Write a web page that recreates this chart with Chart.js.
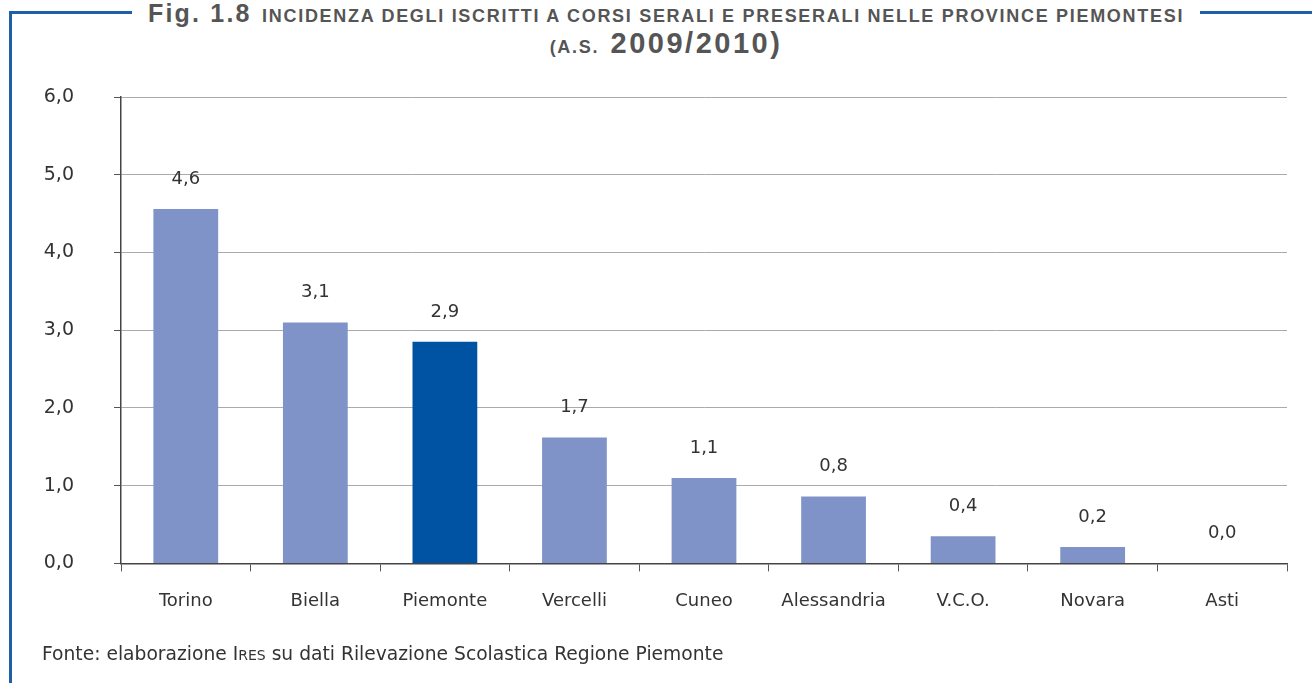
<!DOCTYPE html>
<html>
<head>
<meta charset="utf-8">
<script src="https://cdn.jsdelivr.net/npm/chart.js@4"></script>
<style>
  body { margin: 0; background: #fff; }
  #wrap { position: relative; width: 1312px; height: 683px; overflow: hidden; font-family: "DejaVu Sans", sans-serif; }
  #frame { position: absolute; left: 9px; top: 11px; width: 1400px; height: 700px; border-left: 3px solid #1f5fa8; border-top: 3px solid #1f5fa8; }
  #title { position: absolute; left: 10px; width: 1312px; top: 0px; text-align: center; color: #555; font-family: "Liberation Sans", Arial, sans-serif; font-weight: bold; line-height: 26px; }
  #title span.bg { background: #fff; padding: 0 16px; }
  .big { font-size: 25px; letter-spacing: 2.2px; margin-right: 6px; }
  .big2 { font-size: 29px; letter-spacing: 2.5px; margin-left: 7px; }
  .sm { font-size: 18px; letter-spacing: 1.7px; }
  #fonte { position: absolute; left: 42px; top: 643px; font-size: 18.7px; color: #333; }
  #fonte .sc { font-size: 14px; }
  canvas { position: absolute; left: 0; top: 0; }
</style>
</head>
<body>
<div id="wrap">
  <div id="frame"></div>
  <div id="title"><span class="bg"><span class="big">Fig. 1.8</span> <span class="sm">INCIDENZA DEGLI ISCRITTI A CORSI SERALI E PRESERALI NELLE PROVINCE PIEMONTESI</span></span><br><span class="sm">(A.S.</span> <span class="big2">2009/2010)</span></div>
  <canvas id="grafico" width="1312" height="683"></canvas>
  <div id="fonte">Fonte: elaborazione I<span class="sc">RES</span> su dati Rilevazione Scolastica Regione Piemonte</div>
</div>
<script>
const province = ['Torino', 'Biella', 'Piemonte', 'Vercelli', 'Cuneo', 'Alessandria', 'V.C.O.', 'Novara', 'Asti'];
const incidenza = [4.56, 3.10, 2.85, 1.62, 1.10, 0.86, 0.35, 0.21, 0.0];
const etichette = ['4,6', '3,1', '2,9', '1,7', '1,1', '0,8', '0,4', '0,2', '0,0'];

const colori = province.map(p => p === 'Piemonte' ? '#0052a2' : '#8093c8');
const font = '"DejaVu Sans", sans-serif';

// etichette sopra le barre
const valoriPlugin = {
    id: 'valori',
    afterDatasetsDraw(chart) {
        const c = chart.ctx;
        const meta = chart.getDatasetMeta(0);
        c.save();
        c.font = '18px ' + font;
        c.fillStyle = '#333';
        c.textAlign = 'center';
        c.textBaseline = 'middle';
        meta.data.forEach((bar, i) => {
            c.fillText(etichette[i], bar.x, bar.y - 30);
        });
        c.restore();
    }
};

const ctx = document.getElementById('grafico');

new Chart(ctx, {
    type: 'bar',
    data: {
        labels: province,
        datasets: [{
            data: incidenza,
            backgroundColor: colori,
            barPercentage: 0.5,
            categoryPercentage: 1
        }]
    },
    options: {
        responsive: false,
        animation: false,
        layout: { padding: { left: 0, right: 25, top: 97, bottom: 52 } },
        plugins: {
            legend: { display: false },
            tooltip: { enabled: false }
        },
        scales: {
            x: {
                grid: { offset: true, drawOnChartArea: false, drawTicks: true, tickLength: 8, color: '#555' },
                border: { color: '#444', width: 1.5 },
                ticks: { padding: 19, color: '#333', font: { size: 18, family: font } }
            },
            y: {
                min: 0,
                max: 6,
                afterFit(scale) { scale.width = 121; },
                grid: { color: '#aaa', tickLength: 7, tickColor: '#555' },
                border: { color: '#444', width: 1.5 },
                ticks: {
                    stepSize: 1,
                    padding: 40,
                    color: '#333',
                    font: { size: 19, family: font },
                    callback: v => v.toFixed(1).replace('.', ',')
                }
            }
        }
    },
    plugins: [valoriPlugin]
});
</script>
</body>
</html>
